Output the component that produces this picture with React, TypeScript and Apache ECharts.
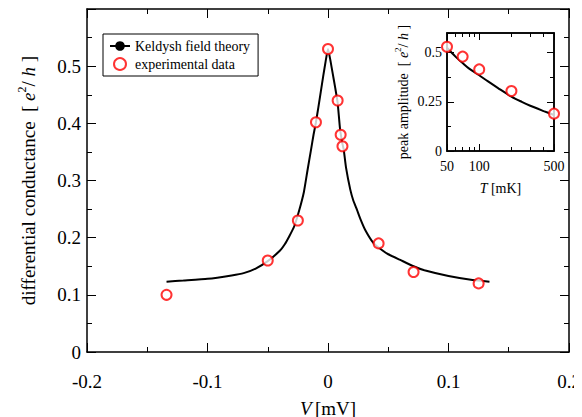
import React, { useEffect, useRef, useState } from "react";
import * as echarts from "echarts";

// Main panel: theory curve (V in mV, G in e^2/h)
const theoryV = [-0.134, -0.12, -0.1, -0.08, -0.07, -0.06, -0.05, -0.04, -0.036, -0.032, -0.028, -0.024, -0.02, -0.017, -0.014, -0.012, -0.01, -0.008, -0.006, -0.004, -0.002, 0,
  0.002, 0.004, 0.006, 0.008, 0.01, 0.012, 0.013, 0.015, 0.0185, 0.021, 0.024, 0.027, 0.031, 0.0376, 0.045, 0.05, 0.06, 0.071, 0.08, 0.1, 0.12, 0.134];
const theoryG = [0.123, 0.125, 0.128, 0.134, 0.138, 0.146, 0.159, 0.177, 0.188, 0.203, 0.22, 0.247, 0.28, 0.318, 0.355, 0.38, 0.402, 0.428, 0.455, 0.482, 0.508, 0.53,
  0.51, 0.486, 0.462, 0.436, 0.39, 0.364, 0.355, 0.322, 0.284, 0.265, 0.249, 0.232, 0.213, 0.191, 0.178, 0.171, 0.161, 0.15, 0.143, 0.133, 0.126, 0.123];

// Main panel: experimental points
const expV = [-0.134, -0.05, -0.025, -0.01, 0, 0.008, 0.0105, 0.012, 0.042, 0.071, 0.125];
const expG = [0.1, 0.16, 0.23, 0.402, 0.53, 0.44, 0.38, 0.36, 0.19, 0.14, 0.12];

// Inset: peak amplitude vs temperature (mK)
const insetT = [50, 60, 70, 80, 100, 120, 150, 200, 250, 300, 400, 500];
const insetTheory = [0.525, 0.48, 0.447, 0.42, 0.385, 0.355, 0.32, 0.277, 0.25, 0.23, 0.203, 0.183];
const insetExpT = [50, 70, 100, 200, 500];
const insetExpG = [0.53, 0.48, 0.415, 0.305, 0.19];

const insetMajorTicks = [50, 100, 500];
const insetMinorTicks = [60, 70, 80, 90, 200, 300, 400];

const FONT = "Liberation Serif";

const richUnits = (size: number) => ({
  n: { fontFamily: FONT, fontSize: size, color: "#000", lineHeight: size + 6 },
  i: { fontFamily: FONT, fontSize: size, fontStyle: "italic", color: "#000", lineHeight: size + 6 },
  sup: { fontFamily: FONT, fontSize: Math.round(size * 0.62), color: "#000", verticalAlign: "top", lineHeight: size + 6 },
});

export default function App() {
  const ref = useRef<HTMLDivElement>(null);
  const [status, setStatus] = useState("");
  useEffect(() => {
    if (!ref.current) return;
    const errs: string[] = [];
    const oldErr = console.error;
    const oldWarn = console.warn;
    console.error = (...a: any[]) => { errs.push(a.map(String).join(" ")); };
    console.warn = (...a: any[]) => { errs.push(a.map(String).join(" ")); };
    const chart = echarts.init(ref.current, undefined, { renderer: "svg" });
    const black = "#000";
    const lineW = 1.5;

    const mainX = (pos: "bottom" | "top", labels: boolean) => ({
      type: "value", gridIndex: 0, position: pos, min: -0.2, max: 0.2, interval: 0.1,
      axisLine: { show: true, onZero: false, lineStyle: { color: black, width: lineW } },
      axisTick: { show: true, inside: true, length: 9, lineStyle: { color: black, width: 1 } },
      minorTick: { show: true, splitNumber: 2, length: 5, lineStyle: { color: black, width: 1 } },
      splitLine: { show: false },
      axisLabel: {
        show: labels, margin: 20, fontFamily: FONT, fontSize: 19, color: black,
        formatter: (v: number) => (Math.abs(v) < 1e-9 ? "0" : String(Math.round(v * 10) / 10)),
      },
      ...(labels ? { name: "{i|V} {n|[mV]}", nameLocation: "middle", nameGap: 44, nameTextStyle: { rich: richUnits(19) } } : {}),
    });

    const mainY = (pos: "left" | "right", labels: boolean) => ({
      type: "value", gridIndex: 0, position: pos, min: 0, max: 0.6, interval: 0.1,
      axisLine: { show: true, onZero: false, lineStyle: { color: black, width: lineW } },
      axisTick: { show: true, inside: true, length: 9, lineStyle: { color: black, width: 1 } },
      minorTick: { show: true, splitNumber: 2, length: 5, lineStyle: { color: black, width: 1 } },
      splitLine: { show: false },
      axisLabel: {
        show: labels, margin: 6, fontFamily: FONT, fontSize: 19, color: black,
        formatter: (v: number) => (v > 0.55 ? "" : v === 0 ? "0" : String(Math.round(v * 10) / 10)),
      },
      ...(labels
        ? {
            name: "{n|differential conductance  [ }{i|e}{sup|2}{n|/ }{i|h}{n| ]}",
            nameLocation: "middle", nameRotate: 90, nameGap: 46,
            nameTextStyle: { rich: richUnits(19) },
          }
        : {}),
    });

    const insetX = (pos: "bottom" | "top", major: boolean, labels: boolean, withName: boolean) => ({
      type: "log", logBase: 10, gridIndex: 1, position: pos, min: 50, max: 500,
      axisLine: { show: major, onZero: false, lineStyle: { color: black, width: lineW } },
      axisTick: {
        show: true, inside: true, length: major ? 7 : 4,
        customValues: major ? insetMajorTicks : insetMinorTicks,
        lineStyle: { color: black, width: 1 },
      },
      minorTick: { show: false },
      splitLine: { show: false },
      axisLabel: { show: labels, customValues: insetMajorTicks, margin: 8, fontFamily: FONT, fontSize: 14, color: black },
      ...(withName ? { name: "{i|T} {n|[mK]}", nameLocation: "middle", nameGap: 27, nameTextStyle: { rich: richUnits(14) } } : {}),
    });

    const insetY = (pos: "left" | "right", labels: boolean) => ({
      type: "value", gridIndex: 1, position: pos, min: 0, max: 0.6, interval: 0.25,
      axisLine: { show: true, onZero: false, lineStyle: { color: black, width: lineW } },
      axisTick: { show: true, inside: true, length: 7, lineStyle: { color: black, width: 1 } },
      minorTick: { show: true, splitNumber: 2, length: 4, lineStyle: { color: black, width: 1 } },
      splitLine: { show: false },
      axisLabel: {
        show: labels, margin: 5, fontFamily: FONT, fontSize: 14, color: black,
        formatter: (v: number) => (v > 0.55 ? "" : v === 0 ? "0" : String(v)),
      },
      ...(labels
        ? {
            name: "{n|peak amplitude  [ }{i|e}{sup|2}{n|/ }{i|h}{n| ]}",
            nameLocation: "middle", nameRotate: 90, nameGap: 34,
            nameTextStyle: { rich: richUnits(14) },
          }
        : {}),
    });

    const option = {
      animation: false,
      backgroundColor: "#fff",
      grid: [
        { left: 71, right: 21, top: 1, bottom: 73 },
        { left: 439, width: 107, top: 25, height: 118, show: true, borderColor: black, borderWidth: lineW, backgroundColor: "#fff" },
      ],
      legend: {
        orient: "vertical", left: 95, top: 26, padding: [5, 8, 5, 6], itemGap: 4, itemWidth: 20, itemHeight: 12,
        borderColor: black, borderWidth: 1, backgroundColor: "#fff",
        textStyle: { fontFamily: FONT, fontSize: 14, color: black },
        data: ["Keldysh field theory", "experimental data"],
      },
      xAxis: [
        mainX("bottom", true), mainX("top", false),
        insetX("bottom", true, true, true), insetX("bottom", false, false, false),
        insetX("top", true, false, false), insetX("top", false, false, false),
      ],
      yAxis: [mainY("left", true), mainY("right", false), insetY("left", true), insetY("right", false)],
      series: [
        {
          name: "Keldysh field theory", type: "line", xAxisIndex: 0, yAxisIndex: 0,
          data: theoryV.map((v, k) => [v, theoryG[k]]),
          showSymbol: false, symbol: "none", smooth: 0.15,
          lineStyle: { color: black, width: 2 }, itemStyle: { color: black }, z: 2,
        },
        {
          name: "experimental data", type: "scatter", xAxisIndex: 0, yAxisIndex: 0,
          data: expV.map((v, k) => [v, expG[k]]),
          symbol: "emptyCircle", symbolSize: 10,
          itemStyle: { color: "#ff0000", borderColor: "#ff0000", borderWidth: 2 }, z: 3,
        },
        {
          name: "inset theory", type: "line", xAxisIndex: 2, yAxisIndex: 2,
          data: insetT.map((t, k) => [t, insetTheory[k]]),
          showSymbol: false, symbol: "none", smooth: 0.3,
          lineStyle: { color: black, width: 2 }, z: 5,
        },
        {
          name: "inset data", type: "scatter", xAxisIndex: 2, yAxisIndex: 2,
          data: insetExpT.map((t, k) => [t, insetExpG[k]]),
          symbol: "emptyCircle", symbolSize: 10,
          itemStyle: { color: "#ff0000", borderColor: "#ff0000", borderWidth: 2 }, z: 6,
        },
      ],
    };
    try {
      chart.setOption(option as any);
    } catch (e: any) {
      errs.push(String(e));
    }
    const timer = setTimeout(() => {
      setStatus(errs.length ? errs.join(" | ").slice(0, 300) : "ok");
    }, 50);
    return () => {
      clearTimeout(timer);
      console.error = oldErr;
      console.warn = oldWarn;
      chart.dispose();
    };
  }, []);

  return (
    <div style={{ position: "relative", width: 582, height: 417 }} data-status={status}>
      <div ref={ref} style={{ width: 582, height: 417, position: "absolute", left: 0, top: 0 }} />
    </div>
  );
}
